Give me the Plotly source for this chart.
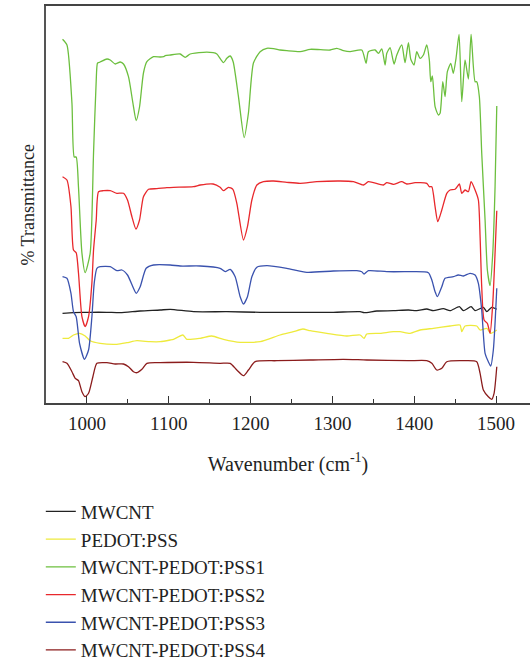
import plotly.graph_objects as go

# Wavenumber (cm^-1) / transmittance (arbitrary offset units)
mwcnt_x = [970.2, 983.6, 1004, 1024.4, 1040.7, 1065.1, 1089.5, 1101.8, 1130.2, 1171, 1211.7, 1252.4,
           1301.2, 1333.9, 1338.7, 1354.3, 1374.5, 1392.9, 1403.1, 1415.3, 1423.4, 1435.6, 1443.8,
           1455.2, 1460.1, 1469.5, 1474.4, 1484.5, 1488.7, 1494.7, 1500.9]
mwcnt_y = [89.7, 90.3, 90.7, 90.7, 90.3, 92, 93, 93.7, 91.3, 91.3, 90.7, 90.7,
           90.7, 91.3, 90.3, 92, 92.3, 93, 92.3, 94, 92.3, 94.3, 92.3,
           96.3, 92.3, 96.3, 92.3, 95.7, 91.3, 95.7, 93.7]

pedot_x = [970.2, 977.5, 983.6, 991, 997.9, 1004, 1016.2, 1036.6, 1048.9, 1061.1, 1077.3, 1089.5,
           1101.8, 1105.8, 1117.3, 1122.2, 1138.4, 1152.7, 1166.9, 1187.3, 1211.7, 1236.1, 1252.4,
           1263.9, 1272.8, 1293.2, 1317.6, 1333.9, 1338.7, 1342, 1358.3, 1374.5, 1382.7, 1395,
           1407.2, 1423.4, 1443.8, 1456, 1458.1, 1462.1, 1476.4, 1480.5, 1488.7, 1493.5, 1500.9]
pedot_y = [64.7, 64.7, 68, 69.7, 67, 62.3, 59.7, 58.7, 60.3, 62.3, 61.3, 61.3,
           63, 63.7, 68, 63.7, 64.7, 67, 63.7, 60.7, 61.3, 68, 71.3,
           74, 72.3, 69.7, 67, 68, 64.7, 69, 69.7, 71.3, 71.3, 69.7,
           73, 74.7, 77, 78, 71.3, 77, 77, 73, 74.7, 69.7, 73]

pss1_x = [970.2, 975.6, 981.7, 984.5, 986.9, 989.7, 993.9, 997.9, 1004, 1008.1, 1011.4, 1013,
          1016.2, 1024.4, 1028.5, 1034.6, 1040.7, 1044.7, 1050.8, 1056.2, 1060.2, 1064.3, 1069.1,
          1073.3, 1081.4, 1089.5, 1093.6, 1095.7, 1101.8, 1114, 1120.1, 1126.2, 1142.4, 1154.3,
          1158.8, 1166.9, 1171, 1175.1, 1178.7, 1185.2, 1192.2, 1197.4, 1203.5, 1211.7, 1219.9,
          1228, 1236.1, 1244.3, 1260.6, 1272.8, 1297.2, 1305.4, 1313.5, 1321.6, 1335.9, 1341.2,
          1344, 1352.2, 1356.2, 1360.4, 1364.4, 1366.5, 1370.5, 1375.4, 1378.7, 1384.8, 1388.8,
          1392.9, 1395.8, 1399.8, 1403.1, 1407.2, 1411.2, 1415.3, 1418.5, 1420.2, 1422.2, 1425.5,
          1429.5, 1431.6, 1434.9, 1437.7, 1440.5, 1444.7, 1447.8, 1451.1, 1454.8, 1458.1, 1462.1,
          1466.2, 1469.5, 1474.4, 1476.4, 1479.6, 1482.5, 1486.6, 1489.4, 1492.7, 1496, 1498.8, 1500.9]
pss1_y = [363.7, 358, 300, 246, 246, 216, 150, 130.3, 150, 250, 323, 340,
          341, 344, 343, 339, 341, 339, 326.3, 300, 282.3, 296, 330,
          341.3, 346.3, 346, 346.3, 347.3, 348, 349, 345.7, 349, 350.7, 350.3,
          349, 340.3, 344.7, 347, 341.3, 306.3, 265.3, 290, 340, 351.3, 354.7,
          354.3, 353, 352.3, 351.3, 353.7, 353, 354.7, 352.3, 351.3, 353, 339.7,
          351.3, 353, 349.7, 354, 338, 349.7, 355.3, 339, 348, 358, 340.3,
          360.3, 343.7, 338, 351.3, 344.7, 348, 358, 343, 321.3, 327, 296.3,
          288, 289.7, 321.3, 306.3, 331.3, 339.7, 329.7, 344.7, 368.7, 301.3, 343,
          324, 368.7, 321.3, 321.3, 306.3, 250, 183, 133, 117.3, 150, 216, 297]

pss2_x = [970.2, 975.6, 980.5, 983.6, 986.9, 989.7, 993.9, 997.9, 1002, 1006.1, 1008.1, 1011.4,
          1014.2, 1020.3, 1028.5, 1036.6, 1044.7, 1049.6, 1055, 1059.9, 1064.3, 1069.1, 1075.3,
          1085.5, 1097.7, 1105.8, 1130.2, 1138.4, 1154.3, 1162.8, 1166.9, 1173, 1178.4, 1183.2,
          1191.3, 1196.2, 1201.6, 1207.7, 1215.7, 1228, 1244.3, 1260.6, 1281, 1309.4, 1325.7,
          1337.9, 1344, 1362.3, 1366.5, 1374.5, 1384.8, 1390.9, 1401.1, 1415.3, 1418.5, 1421.5,
          1425.5, 1428.8, 1433.7, 1439.8, 1443.8, 1449.9, 1455.2, 1458.1, 1462.1, 1466.2, 1469.5,
          1474.4, 1478.4, 1480.5, 1482.5, 1485.4, 1489.4, 1492.7, 1496, 1498.8, 1500.9]
pss2_y = [226.3, 223, 196.3, 153, 150.3, 130, 86.3, 76.3, 86.3, 120, 153, 183,
          211.3, 212.3, 212.3, 209.7, 209.7, 203, 186.3, 174, 183, 206.3, 213.7,
          214.3, 215.3, 215.7, 216.3, 218, 219, 215.7, 212.3, 215.7, 213.7, 199.7,
          163, 176.3, 203, 218, 221.3, 222, 220.7, 219.7, 221.3, 222, 221.3,
          218, 221.3, 218, 220.3, 218.7, 221.3, 219, 220.3, 219.7, 216.3, 216.3,
          196.3, 181.3, 193, 209.7, 213, 213.7, 219, 209.7, 213, 211.3, 221.3,
          213, 203, 166.3, 116.3, 83, 79.7, 69.7, 99.7, 150, 192.3]

pss3_x = [970.2, 975.6, 980.5, 983.6, 986.9, 991, 997.1, 1002, 1006.1, 1008.9, 1012.2, 1016.2,
          1028.5, 1036.6, 1042.8, 1049.6, 1056.9, 1060.2, 1065.1, 1072.4, 1081.4, 1101.8, 1114,
          1138.4, 1162.8, 1169, 1175.1, 1181.2, 1187.3, 1191.3, 1196.2, 1201.6, 1207.7, 1219.9,
          1244.3, 1268.8, 1301.2, 1329.8, 1335.9, 1338.7, 1344, 1366.5, 1392.9, 1399.8, 1417.3,
          1421.5, 1425.5, 1428.3, 1433.7, 1437.7, 1447.8, 1453.9, 1460.1, 1468.2, 1474.4, 1478.4,
          1482.5, 1486.6, 1490.6, 1493.5, 1496.7, 1500.9]
pss3_y = [126.3, 124.7, 109.7, 91.3, 86.3, 59.7, 43.7, 53, 86.3, 119.7, 134.7, 136.3,
          136.3, 132.3, 133, 128, 114.7, 109.7, 116.3, 134.7, 138, 138, 137,
          137, 134.7, 131.3, 133.7, 126.3, 106.3, 99, 106.3, 126.3, 135.7, 137.3,
          134.7, 130.7, 132, 132.3, 131.3, 129, 132.3, 131.3, 131.3, 131.3, 130.3,
          123, 111.3, 106.3, 116.3, 124.7, 126.3, 128, 127, 129.7, 128, 119.7,
          93, 49.7, 41.3, 37, 53, 114.7]

pss4_x = [970.2, 975.6, 981.7, 985.7, 989.7, 993.9, 997.9, 1002, 1007.3, 1012.2, 1024.4, 1034.6,
          1044.7, 1050.8, 1056.9, 1061.1, 1067.2, 1073.3, 1089.5, 1130.2, 1162.8, 1175.1, 1183.2,
          1191.3, 1197.4, 1205.6, 1232.1, 1272.8, 1313.5, 1342, 1392.9, 1415.3, 1421.5, 1427.6,
          1433.7, 1439.8, 1464.2, 1476.4, 1480.5, 1484.5, 1490.6, 1494.7, 1497.6, 1500.9]
pss4_y = [41.3, 39.7, 31.3, 24.7, 22.3, 11.3, 6.3, 9.7, 26.3, 39.7, 40.3, 39,
          39, 36.3, 31.3, 30.3, 33.7, 39.7, 40.3, 40.7, 39.7, 39.7, 33,
          27.3, 33, 41.3, 42.3, 43, 43.7, 43, 42.3, 42.3, 39.7, 33,
          34.7, 41.3, 42.3, 41.3, 29.7, 13, 6.3, 3.7, 9.7, 36.3]

names = ["MWCNT", "PEDOT:PSS", "MWCNT-PEDOT:PSS1", "MWCNT-PEDOT:PSS2",
         "MWCNT-PEDOT:PSS3", "MWCNT-PEDOT:PSS4"]
colors = ["#222222", "#eeea3c", "#6cbf3e", "#e8282c", "#3a52ae", "#8b1c1c"]
series = [(mwcnt_x, mwcnt_y), (pedot_x, pedot_y), (pss1_x, pss1_y),
          (pss2_x, pss2_y), (pss3_x, pss3_y), (pss4_x, pss4_y)]

tick_vals = [1000, 1100, 1200, 1300, 1400, 1500]
tick_text = ["1000", "1100", "1200", "1300", "1400", "1500"]
y_title = "% Transmittance"
x_title = "Wavenumber (cm<sup>-1</sup>)"

FONT = "Liberation Serif"

fig = go.Figure()
for i, (name, col, (xs, ys)) in enumerate(zip(names, colors, series)):
    fig.add_trace(go.Scatter(x=xs, y=ys, mode="lines", name=name,
                             line=dict(color=col, width=1.3, shape="spline", smoothing=0.6)))

fig.add_annotation(text=y_title, xref="paper", yref="paper", x=-0.039, y=0.5,
                   xanchor="center", yanchor="middle", textangle=-90, showarrow=False,
                   font=dict(family=FONT, size=18, color="#222222"))

fig.update_layout(
    width=530, height=663,
    margin=dict(l=46, r=0, t=6, b=260, autoexpand=False),
    paper_bgcolor="white", plot_bgcolor="white",
    font=dict(family=FONT, color="#222222", size=19),
    showlegend=True,
    legend=dict(x=0.077, xref="container", y=0.257, yref="container",
                xanchor="left", yanchor="top", traceorder="normal",
                font=dict(family=FONT, size=19, color="#222222"),
                bgcolor="rgba(0,0,0,0)"),
    xaxis=dict(range=[950, 1541.5], tickvals=tick_vals, ticktext=tick_text,
               ticks="inside", ticklen=7, tickwidth=1.2, tickcolor="#333333",
               minor=dict(dtick=50, tick0=950, ticks="inside", ticklen=4, tickwidth=1.2,
                          tickcolor="#333333"),
               showline=True, linecolor="#444444", linewidth=1.5, mirror=True,
               showgrid=False, zeroline=False, ticklabelstandoff=2,
               tickfont=dict(size=19, family=FONT),
               title=dict(text=x_title, font=dict(size=20, family=FONT), standoff=24)),
    yaxis=dict(range=[0, 397], showticklabels=False, ticks="", showgrid=False,
               zeroline=False, showline=True, linecolor="#555555", linewidth=1.5),
)

fig.write_html("out.html")
